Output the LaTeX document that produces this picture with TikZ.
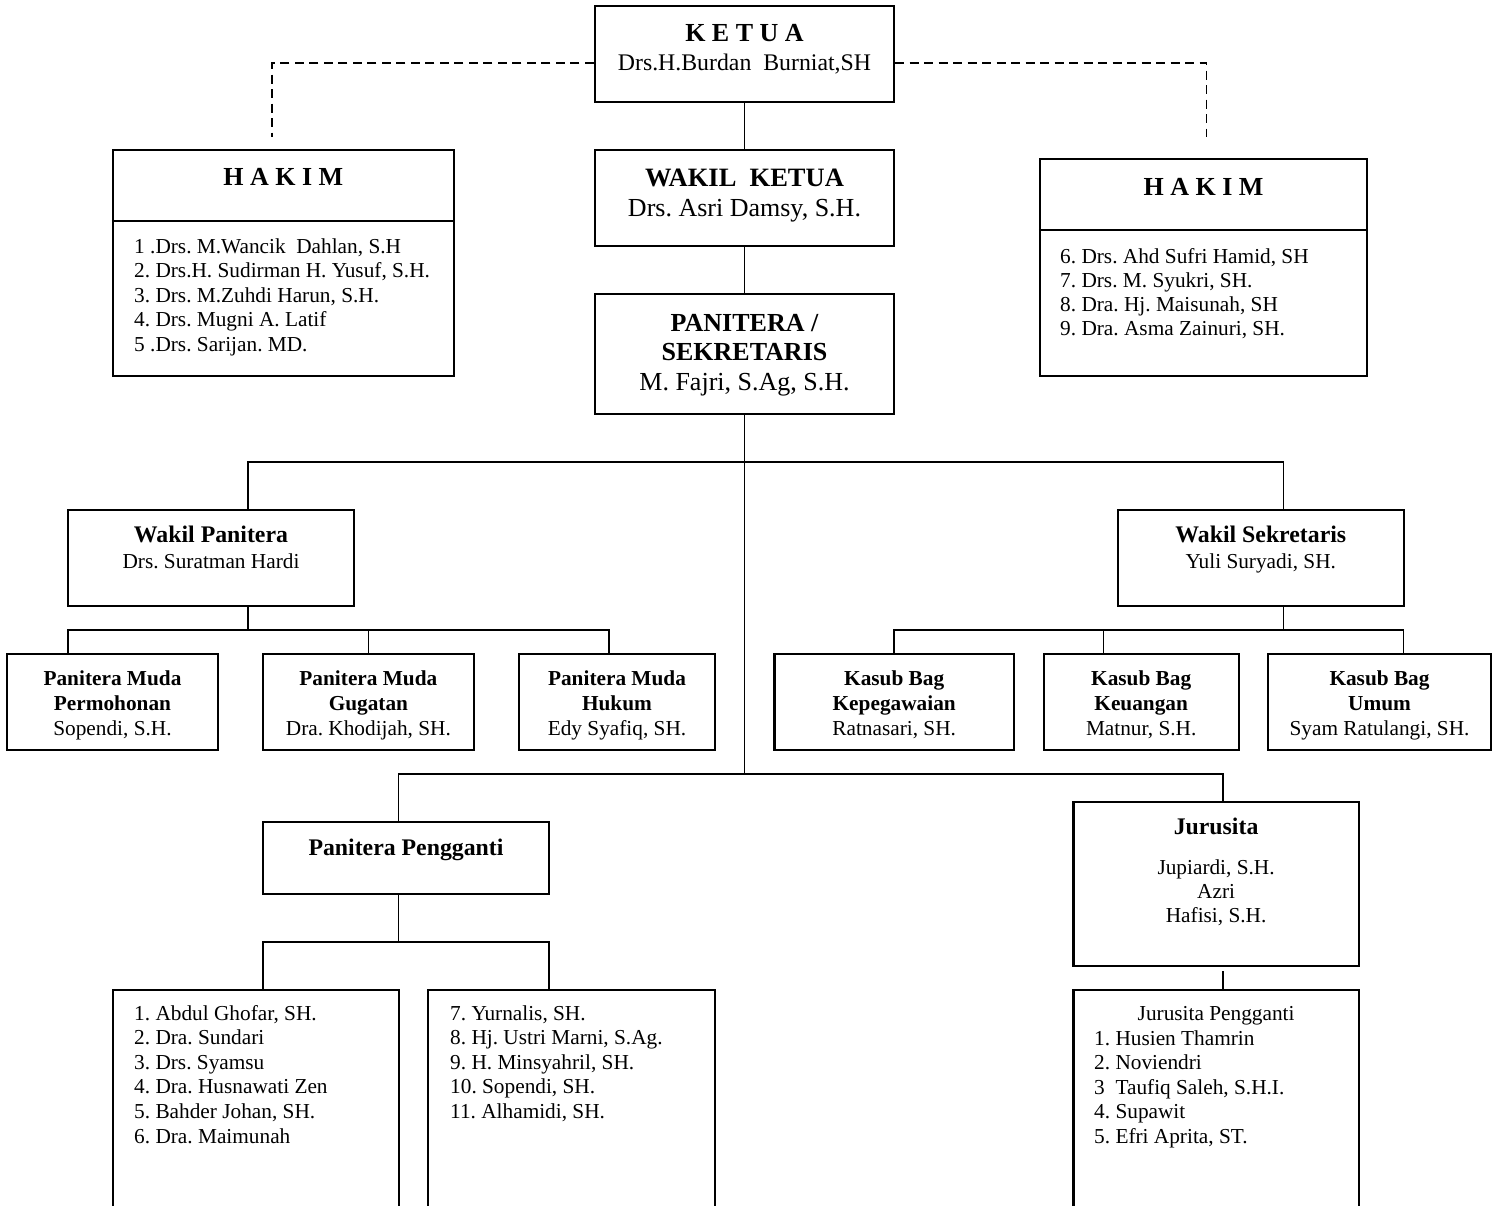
\documentclass[tikz,border=0pt]{standalone}
\usepackage{fontspec}
\setmainfont{Liberation Serif}
\frenchspacing
\tikzset{x=1pt, y=-1pt,
	box/.style={draw, line width=2.2pt, inner sep=0pt},
	link/.style={line width=1.5pt},
	dashline/.style={line width=1.5pt, dash pattern=on 9pt off 5.5pt},
	txt/.style={inner sep=0pt, anchor=base, font=\fontsize{21.3}{25}\selectfont},
	list/.style={txt, anchor=base west, font=\fontsize{21.3}{24.6}\selectfont}}
\newcommand{\rowsc}[1]{\begin{tabular}[t]{@{}c@{}}#1\end{tabular}}
\newcommand{\rowsl}[1]{\begin{tabular}[t]{@{}l@{}}#1\end{tabular}}
\newcommand{\hd}[2]{{\fontsize{#1}{#1}\selectfont\bfseries #2}}

\begin{document}
\begin{tikzpicture}
		\useasboundingbox (0,0) rectangle (1493,1205);
		\clip (0,0) rectangle (1493,1205);
		\node[box, minimum width=299pt, minimum height=96pt] (ketua) at (744.5,54) {};
		\node[txt, font=\fontsize{23.8}{29.3}\selectfont] (ketuaTxt) at (744.5,41.6) {\rowsc{\hd{26}{K E T U A}\\ Drs.H.Burdan\ \ Burniat,SH}};
		\node[box, minimum width=299pt, minimum height=96pt] (wakil) at (744.5,198) {};
		\node[txt, font=\fontsize{26}{30}\selectfont] (wakilTxt) at (744.5,186.5) {\rowsc{\hd{26.5}{WAKIL\ \ KETUA}\\ Drs. Asri Damsy, S.H.}};
		\node[box, minimum width=299pt, minimum height=120pt] (panitera) at (744.5,354) {};
		\node[txt, font=\fontsize{26}{29.8}\selectfont] (paniteraTxt) at (744.5,331) {\rowsc{\hd{26}{PANITERA /}\\ \hd{26}{SEKRETARIS}\\ M. Fajri, S.Ag, S.H.}};

		\node[box, minimum width=340.6pt, minimum height=226pt] (hakimL) at (283.3,263) {};
		\draw[box] ([yshift=-72pt]hakimL.north west) -- ([yshift=-72pt]hakimL.north east);
		\node[txt] (hakimLHd) at (283.3,185.6) {\hd{26}{H A K I M}};
		\node[list] (hakimLTxt) at (134,253) {\rowsl{1 .Drs. M.Wancik\ \ Dahlan, S.H\\ 2. Drs.H. Sudirman H. Yusuf, S.H.\\ 3. Drs. M.Zuhdi Harun, S.H.\\ 4. Drs. Mugni A. Latif\\ 5 .Drs. Sarijan. MD.}};
		\node[box, minimum width=327pt, minimum height=217pt] (hakimR) at (1203.5,267.5) {};
		\draw[box] ([yshift=-72pt]hakimR.north west) -- ([yshift=-72pt]hakimR.north east);
		\node[txt] (hakimRHd) at (1203.5,195.6) {\hd{26}{H A K I M}};
		\node[list, font=\fontsize{21.3}{24.2}\selectfont] (hakimRTxt) at (1060,263) {\rowsl{6. Drs. Ahd Sufri Hamid, SH\\ 7. Drs. M. Syukri, SH.\\ 8. Dra. Hj. Maisunah, SH\\ 9. Dra. Asma Zainuri, SH.}};

		\node[box, minimum width=286pt, minimum height=96pt] (wakPan) at (211,558) {};
		\node[txt, font=\fontsize{21.3}{26}\selectfont] (wakPanTxt) at (211,542.9) {\rowsc{\hd{23.8}{Wakil Panitera}\\ Drs. Suratman Hardi}};
		\node[box, minimum width=285.6pt, minimum height=96pt] (wakSek) at (1260.8,558) {};
		\node[txt, font=\fontsize{21.3}{26}\selectfont] (wakSekTxt) at (1260.8,542.9) {\rowsc{\hd{23.8}{Wakil Sekretaris}\\ Yuli Suryadi, SH.}};

		\node[box, minimum width=211pt, minimum height=96pt] (pm1) at (112.5,702) {};
		\node[txt] (pm1Txt) at (112.5,685) {\rowsc{\textbf{Panitera Muda}\\ \textbf{Permohonan}\\ Sopendi, S.H.}};
		\node[box, minimum width=210.7pt, minimum height=96pt] (pm2) at (368.4,702) {};
		\node[txt] (pm2Txt) at (368.4,685) {\rowsc{\textbf{Panitera Muda}\\ \textbf{Gugatan}\\ Dra. Khodijah, SH.}};
		\node[box, minimum width=196pt, minimum height=96pt] (pm3) at (617,702) {};
		\node[txt] (pm3Txt) at (617,685) {\rowsc{\textbf{Panitera Muda}\\ \textbf{Hukum}\\ Edy Syafiq, SH.}};
		\node[box, minimum width=239.6pt, minimum height=96pt] (kb1) at (894.2,702) {};
		\node[txt] (kb1Txt) at (894.2,685) {\rowsc{\textbf{Kasub Bag}\\ \textbf{Kepegawaian}\\ Ratnasari, SH.}};
		\node[box, minimum width=194.8pt, minimum height=96pt] (kb2) at (1141.2,702) {};
		\node[txt] (kb2Txt) at (1141.2,685) {\rowsc{\textbf{Kasub Bag}\\ \textbf{Keuangan}\\ Matnur, S.H.}};
		\node[box, minimum width=223pt, minimum height=96pt] (kb3) at (1379.5,702) {};
		\node[txt] (kb3Txt) at (1379.5,685) {\rowsc{\textbf{Kasub Bag}\\ \textbf{Umum}\\ Syam Ratulangi, SH.}};

		\node[box, minimum width=286pt, minimum height=72pt] (pp) at (406,858) {};
		\node[txt] (ppTxt) at (406,855.9) {\hd{23.8}{Panitera Pengganti}};
		\node[box, minimum width=285.6pt, minimum height=240pt] (ppL) at (255.8,1110) {};
		\node[list] (ppLTxt) at (134,1020) {\rowsl{1. Abdul Ghofar, SH.\\ 2. Dra. Sundari\\ 3. Drs. Syamsu\\ 4. Dra. Husnawati Zen\\ 5. Bahder Johan, SH.\\ 6. Dra. Maimunah}};
		\node[box, minimum width=287pt, minimum height=240pt] (ppR) at (571.5,1110) {};
		\node[list] (ppRTxt) at (450,1020) {\rowsl{7. Yurnalis, SH.\\ 8. Hj. Ustri Marni, S.Ag.\\ 9. H. Minsyahril, SH.\\ 10. Sopendi, SH.\\ 11. Alhamidi, SH.}};

		\node[box, minimum width=285.2pt, minimum height=164pt] (jur) at (1216.1,884) {};
		\node[txt, font=\fontsize{21.3}{24.2}\selectfont] (jurTxt) at (1216.1,834.6) {\rowsc{\hd{23.8}{Jurusita}\\[15.4pt] Jupiardi, S.H.\\ Azri\\ Hafisi, S.H.}};
		\node[box, minimum width=285.2pt, minimum height=240pt] (jurP) at (1216.1,1110) {};
		\node[txt] (jurPHd) at (1216.1,1020) {Jurusita Pengganti};
		\node[list] (jurPTxt) at (1094,1045) {\rowsl{1. Husien Thamrin\\ 2. Noviendri\\ 3\ \ Taufiq Saleh, S.H.I.\\ 4. Supawit\\ 5. Efri Aprita, ST.}};

		\coordinate (dLt) at (272,63);
		\coordinate (dL) at (272,137);
		\coordinate (dRt) at (1206.5,63);
		\coordinate (dR) at (1206.5,137);
		\draw[dashline] (ketua.west |- dLt) -- (dLt) -- (dL);
		\draw[dashline] (ketua.east |- dRt) -- (dRt) -- (dR);
		\draw[link] (ketua.south) -- (wakil.north);
		\draw[link] (wakil.south) -- (panitera.north);

		\coordinate (bWP) at (248,462);
		\coordinate (bWS) at (1283.5,462);
		\coordinate (lPP) at (398.6,774);
		\coordinate (lJ) at (1223,774);
		\draw[link] (panitera.south) -- (panitera.south |- lPP);
		\draw[link] (bWP |- wakPan.north) -- (bWP) -- (bWS) -- (bWS |- wakSek.north);

		\coordinate (h1) at (68,630);
		\coordinate (h3) at (609,630);
		\draw[link] (bWP |- wakPan.south) -- (bWP |- h1);
		\draw[link] (h1 |- pm1.north) -- (h1) -- (h3) -- (h3 |- pm3.north);
		\draw[link] (pm2.north) -- (pm2.north |- h1);

		\coordinate (k2) at (1103.6,630);
		\coordinate (k3) at (1403.6,630);
		\draw[link] (bWS |- wakSek.south) -- (bWS |- k3);
		\draw[link] (kb1.north) -- (kb1.north |- k3) -- (k3) -- (k3 |- kb3.north);
		\draw[link] (k2) -- (k2 |- kb2.north);

		\draw[link] (lPP |- pp.north) -- (lPP) -- (lJ) -- (lJ |- jur.north);
		\coordinate (q1) at (263,942);
		\coordinate (q2) at (549,942);
		\draw[link] (lPP |- pp.south) -- (lPP |- q1);
		\draw[link] (q1 |- ppL.north) -- (q1) -- (q2) -- (q2 |- ppR.north);
		\draw[link, shorten <=4pt] (lJ |- jur.south) -- (lJ |- jurP.north);
\end{tikzpicture}
\end{document}
